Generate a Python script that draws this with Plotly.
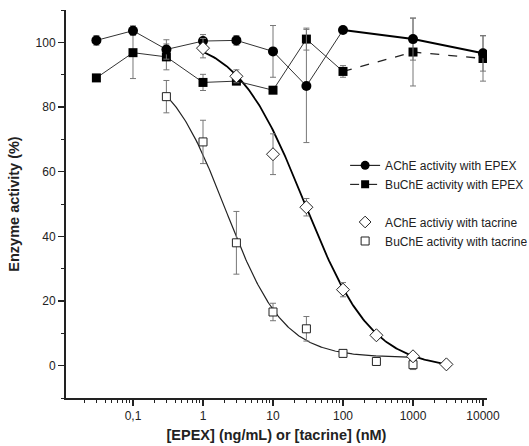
import numpy as np
import plotly.graph_objects as go

# ---- data ----
epex_conc = [0.03, 0.1, 0.3, 1, 3, 10, 30, 100, 1000, 10000]
ache_epex = [100.6, 103.6, 97.8, 100.4, 100.6, 97.2, 86.5, 103.8, 101.0, 96.6]
ache_epex_err = [1.5, 1.5, 3.0, 2.0, 1.5, 8.0, 17.5, 0.0, 6.5, 5.5]
buche_epex = [89.0, 96.8, 95.5, 87.6, 88.0, 85.2, 101.0, 91.0, 97.0, 95.0]
buche_epex_err = [0.0, 8.0, 4.0, 2.5, 0.8, 0.0, 3.4, 1.8, 10.5, 7.0]

tac_ache_conc = [1, 3, 10, 30, 100, 300, 1000, 3000]
ache_tac = [98.2, 89.5, 65.4, 49.0, 23.5, 9.4, 2.9, 0.4]
ache_tac_err = [3.0, 2.0, 6.3, 2.7, 2.2, 1.0, 0.8, 0.8]
tac_buche_conc = [0.3, 1, 3, 10, 30, 100, 300, 1000]
buche_tac = [83.2, 69.2, 38.0, 16.6, 11.4, 3.8, 1.3, 0.3]
buche_tac_err = [5.0, 6.7, 9.7, 2.7, 3.8, 1.0, 0.8, 1.5]

# fitted dose-response (Hill) parameters estimated from the drawn curves
ache_fit = dict(top=102.0, bottom=-1.0, ic50=28.0, hill=0.9)
buche_fit = dict(top=94.0, bottom=2.5, ic50=2.1, hill=1.05)

x_tickvals = [0.1, 1, 10, 100, 1000, 10000]
x_ticktext = ["0,1", "1", "10", "100", "1000", "10000"]

legend_names = ["AChE activity with EPEX", "BuChE activity with EPEX",
                "AChE activiy with tacrine", "BuChE activity with tacrine"]


def hill(x, p):
    x = np.asarray(x, dtype=float)
    return p["bottom"] + (p["top"] - p["bottom"]) / (1 + (x / p["ic50"]) ** p["hill"])


FONT = "Liberation Sans, Arial, sans-serif"
ERR = dict(type="data", thickness=1, width=3, color="#777777")

fig = go.Figure()

# fitted curves
xa = np.logspace(np.log10(tac_ache_conc[0]), np.log10(tac_ache_conc[-1]), 200)
fig.add_trace(go.Scatter(x=xa, y=hill(xa, ache_fit), mode="lines",
                         line=dict(color="black", width=1.8), showlegend=False,
                         hoverinfo="skip"))
xb = np.logspace(np.log10(tac_buche_conc[0]), np.log10(tac_buche_conc[-1]), 200)
fig.add_trace(go.Scatter(x=xb, y=hill(xb, buche_fit), mode="lines",
                         line=dict(color="#222222", width=1.2), showlegend=False,
                         hoverinfo="skip"))

# EPEX series: connecting lines
fig.add_trace(go.Scatter(x=epex_conc[:8], y=buche_epex[:8], mode="lines",
                         line=dict(color="#333333", width=1), showlegend=False))
fig.add_trace(go.Scatter(x=epex_conc[7:], y=buche_epex[7:], mode="lines",
                         line=dict(color="#222222", width=1.3, dash="dash"),
                         showlegend=False))
fig.add_trace(go.Scatter(x=epex_conc[:8], y=ache_epex[:8], mode="lines",
                         line=dict(color="#333333", width=1), showlegend=False))
fig.add_trace(go.Scatter(x=epex_conc[7:], y=ache_epex[7:], mode="lines",
                         line=dict(color="black", width=2), showlegend=False))

# markers with error bars
fig.add_trace(go.Scatter(
    x=epex_conc, y=buche_epex, mode="markers",
    marker=dict(symbol="square", size=9, color="black"),
    error_y=dict(array=buche_epex_err, **ERR), showlegend=False))
fig.add_trace(go.Scatter(
    x=epex_conc, y=ache_epex, mode="markers",
    marker=dict(symbol="circle", size=10, color="black"),
    error_y=dict(array=ache_epex_err, **ERR), showlegend=False))
fig.add_trace(go.Scatter(
    x=tac_buche_conc, y=buche_tac, mode="markers",
    marker=dict(symbol="square", size=8, color="white",
                line=dict(color="#222222", width=1)),
    error_y=dict(array=buche_tac_err, **ERR), showlegend=False))
fig.add_trace(go.Scatter(
    x=tac_ache_conc, y=ache_tac, mode="markers",
    marker=dict(symbol="diamond", size=10, color="white",
                line=dict(color="#222222", width=1)),
    error_y=dict(array=ache_tac_err, **ERR), showlegend=False))

# legend-only entries (no data drawn)
fig.add_trace(go.Scatter(x=[None], y=[None], mode="lines+markers", name=legend_names[0],
                         line=dict(color="black", width=1),
                         marker=dict(symbol="circle", size=9, color="black"),
                         legend="legend"))
fig.add_trace(go.Scatter(x=[None], y=[None], mode="lines+markers", name=legend_names[1],
                         line=dict(color="black", width=1, dash="dash"),
                         marker=dict(symbol="square", size=8, color="black"),
                         legend="legend"))
fig.add_trace(go.Scatter(x=[None], y=[None], mode="markers", name=legend_names[2],
                         marker=dict(symbol="diamond", size=9, color="white",
                                     line=dict(color="#222222", width=1)),
                         legend="legend2"))
fig.add_trace(go.Scatter(x=[None], y=[None], mode="markers", name=legend_names[3],
                         marker=dict(symbol="square", size=8, color="white",
                                     line=dict(color="#222222", width=1)),
                         legend="legend2"))

minor_x = [m * 10.0 ** d for d in range(-2, 4) for m in range(2, 10)]

fig.update_layout(
    width=529, height=446,
    margin=dict(l=66, r=42, t=10, b=48, autoexpand=False),
    plot_bgcolor="white", paper_bgcolor="white",
    font=dict(family=FONT, size=12, color="#222222"),
    hovermode=False,
    xaxis=dict(
        type="log", range=[-1.957, 4.057],
        tickmode="array", tickvals=x_tickvals, ticktext=x_ticktext,
        ticks="outside", ticklen=6, tickwidth=1.5, tickcolor="#222222",
        minor=dict(tickmode="array", tickvals=minor_x, ticks="outside",
                   ticklen=3, tickwidth=1, tickcolor="#222222"),
        showline=True, linecolor="#222222", linewidth=2,
        showgrid=False, zeroline=False,
        title=dict(text="<b>[EPEX] (ng/mL) or [tacrine] (nM)</b>",
                   font=dict(size=14.5), standoff=7),
        tickfont=dict(size=12),
    ),
    yaxis=dict(
        range=[-10, 110], tickmode="linear", tick0=0, dtick=20,
        ticks="outside", ticklen=6, tickwidth=1.5, tickcolor="#222222",
        minor=dict(dtick=10, ticks="outside", ticklen=3, tickwidth=1,
                   tickcolor="#222222"),
        showline=True, linecolor="#222222", linewidth=2,
        showgrid=False, zeroline=False,
        title=dict(text="<b>Enzyme activity (%)</b>", font=dict(size=14.5),
                   standoff=12),
        tickfont=dict(size=12),
    ),
    legend=dict(x=0.663, y=0.637, xanchor="left", yanchor="top",
                bgcolor="rgba(0,0,0,0)", font=dict(size=12), itemwidth=30,
                tracegroupgap=0),
    legend2=dict(x=0.663, y=0.491, xanchor="left", yanchor="top",
                 bgcolor="rgba(0,0,0,0)", font=dict(size=12), itemwidth=30,
                 tracegroupgap=0),
)

fig.write_html("out.html", config={"displayModeBar": False, "staticPlot": True},
               post_script="document.body.style.margin='0';")
